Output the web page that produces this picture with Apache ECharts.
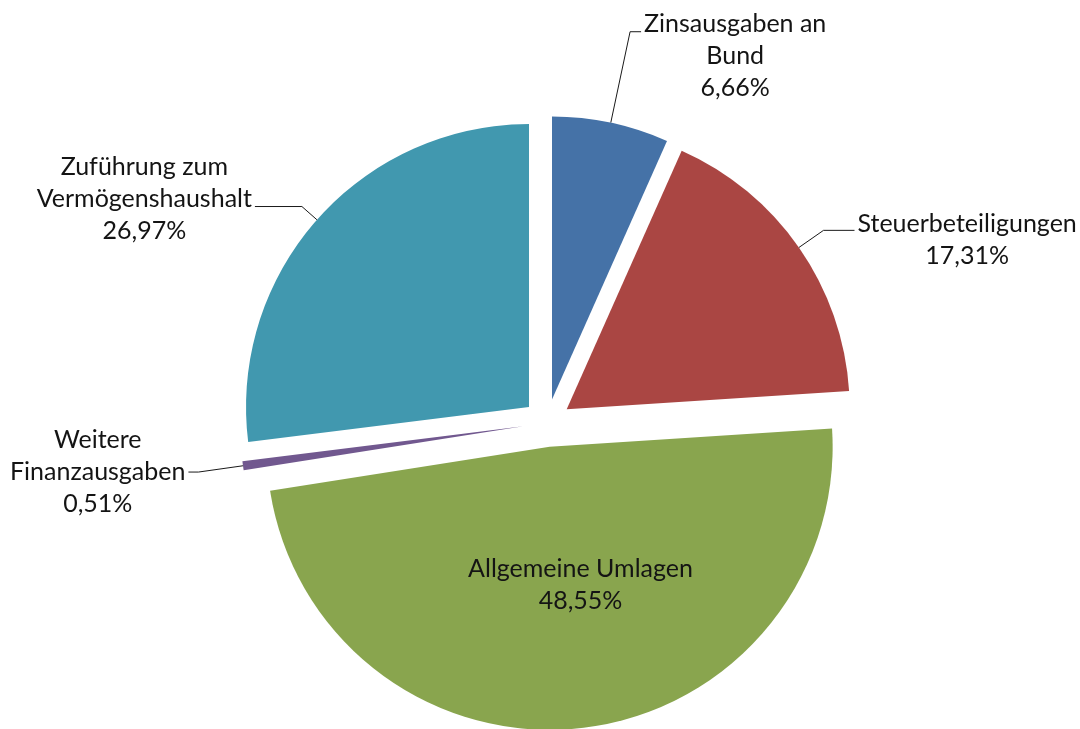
<!DOCTYPE html>
<html>
<head>
<meta charset="utf-8">
<script src="https://cdn.jsdelivr.net/npm/echarts@6/dist/echarts.min.js"></script>
<style>
html,body{margin:0;padding:0;background:#ffffff;}
#chart{width:1080px;height:729px;}
</style>
</head>
<body>
<div id="chart"></div>
<script>
// ---- data ----
const categories = [
  'Zinsausgaben an\nBund',
  'Steuerbeteiligungen',
  'Allgemeine Umlagen',
  'Weitere\nFinanzausgaben',
  'Zuführung zum\nVermögenshaushalt'
];
const shares = [6.66, 17.31, 48.55, 0.51, 26.97];

// ---- styling ----
const colors = ['#4572A7', '#AA4643', '#89A54E', '#71588F', '#4198AF'];
const FONT = 'Lato';
const FS = 25;
const LH = 32;
const TXT = '#141414';
const labelTweaks = [
  { position: 'outside', padding: [48, 0, 0, 0], len: 93, len2: 11 },
  { position: 'outside', padding: [19, 0, 0, 0], len: 30, len2: 31 },
  { position: 'inside',  padding: [0, 0, 12, 30] },
  { position: 'outside', padding: [0, 0, 0, 0], len: 45, len2: 10 },
  { position: 'outside', padding: [0, 0, 16, 0], len: 20, len2: 47 }
];

function fmt(p) {
  const lines = p.name.split('\n');
  lines.push(p.percent.toFixed(2).replace('.', ',') + '%');
  return lines.map(l => '{c|' + l + '}').join('\n');
}

const data = categories.map((name, i) => {
  const t = labelTweaks[i];
  const item = {
    name: name,
    value: shares[i],
    selected: true,
    itemStyle: { color: colors[i] },
    label: { position: t.position, padding: t.padding }
  };
  if (t.position === 'outside') {
    item.labelLine = { show: true, length: t.len, length2: t.len2 };
  } else {
    item.labelLine = { show: false };
  }
  return item;
});

const chart = echarts.init(document.getElementById('chart'), null, { renderer: 'canvas' });
chart.setOption({
  animation: false,
  backgroundColor: '#ffffff',
  series: [{
    type: 'pie',
    center: [547, 423],
    radius: 283,
    startAngle: 90,
    clockwise: true,
    selectedMode: 'multiple',
    selectedOffset: 24,
    avoidLabelOverlap: false,
    emphasis: { disabled: true },
    itemStyle: { borderWidth: 0 },
    label: {
      show: true,
      formatter: fmt,
      distanceToLabelLine: 3,
      color: TXT,
      fontFamily: FONT,
      fontSize: FS,
      lineHeight: LH,
      rich: {
        c: { align: 'center', fontFamily: FONT, fontSize: FS, lineHeight: LH, color: TXT }
      }
    },
    labelLine: {
      show: true,
      smooth: false,
      lineStyle: { color: '#1a1a1a', width: 1 }
    },
    data: data
  }]
});
</script>
</body>
</html>
